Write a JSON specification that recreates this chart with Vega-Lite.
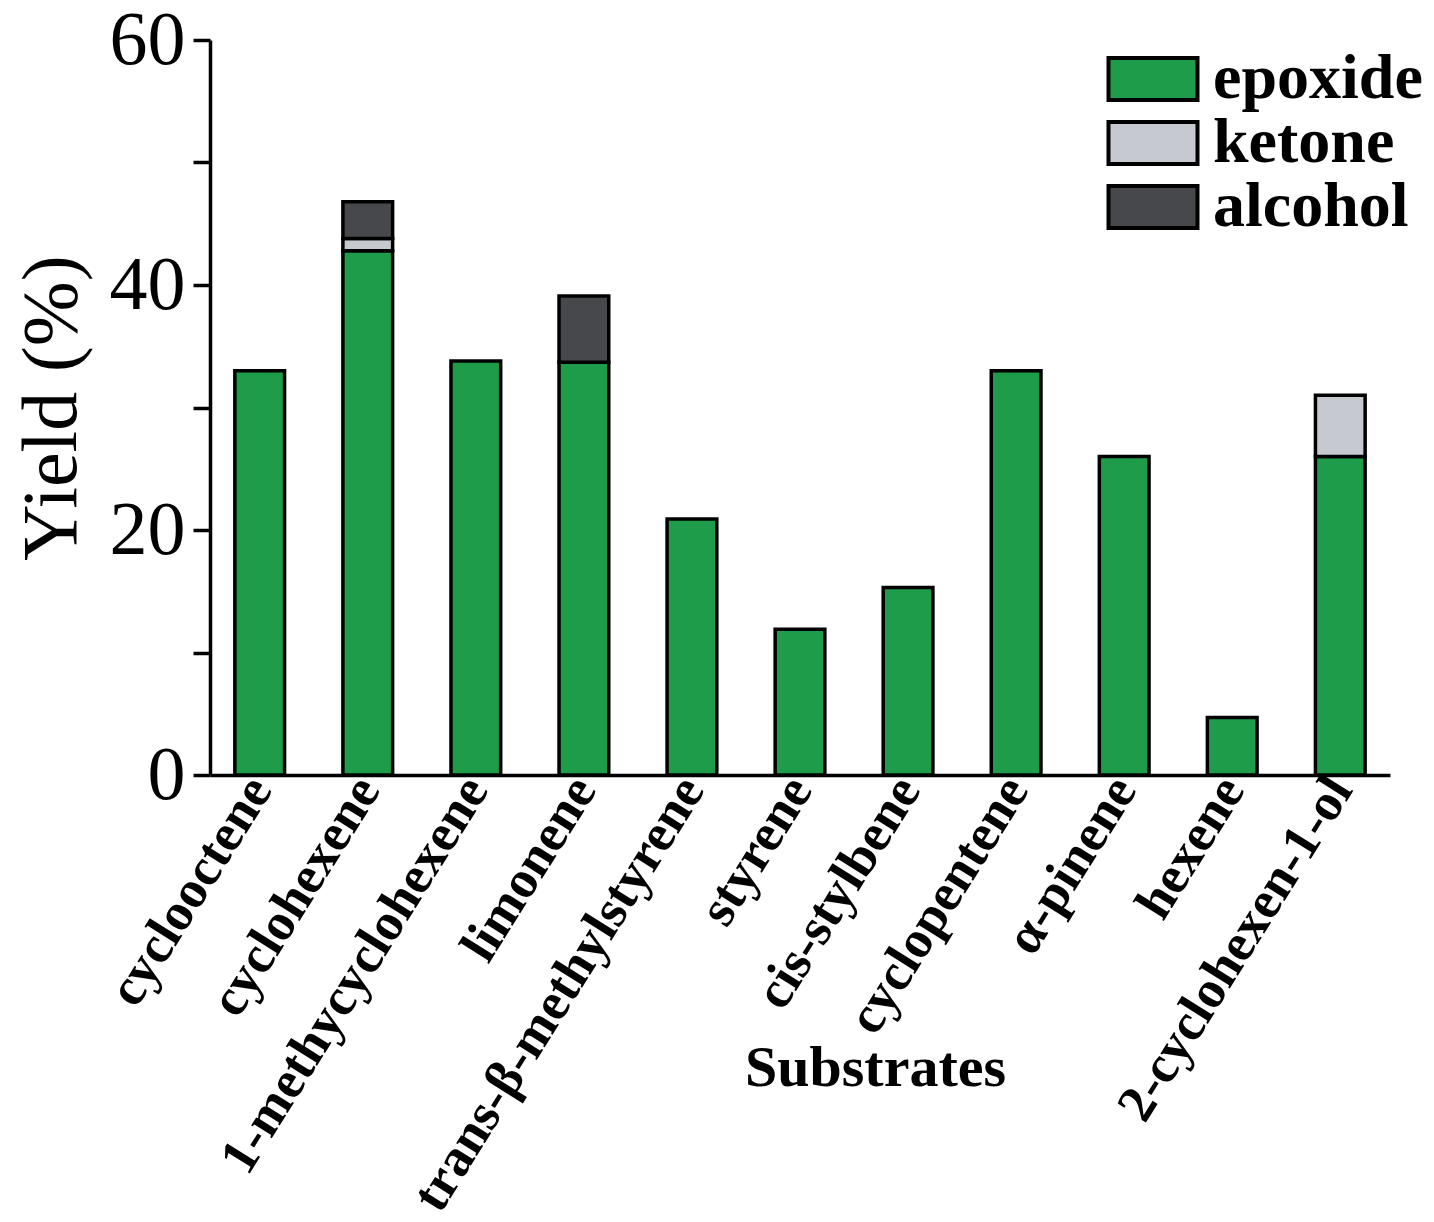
{
  "$schema": "https://vega.github.io/schema/vega-lite/v6.json",
  "autosize": "none",
  "padding": {"left": 210, "top": 40, "right": 44, "bottom": 447},
  "width": 1180,
  "height": 735,
  "background": "white",
  "config": {"view": {"stroke": null}},
  "data": {
    "values": [
      {"substrate": "cyclooctene", "product": "epoxide", "rank": 1, "yield": 33.0},
      {"substrate": "cyclohexene", "product": "epoxide", "rank": 1, "yield": 42.8},
      {"substrate": "cyclohexene", "product": "ketone", "rank": 2, "yield": 1.0},
      {"substrate": "cyclohexene", "product": "alcohol", "rank": 3, "yield": 3.0},
      {"substrate": "1-methycyclohexene", "product": "epoxide", "rank": 1, "yield": 33.8},
      {"substrate": "limonene", "product": "epoxide", "rank": 1, "yield": 33.7},
      {"substrate": "limonene", "product": "alcohol", "rank": 3, "yield": 5.4},
      {"substrate": "trans-β-methylstyrene", "product": "epoxide", "rank": 1, "yield": 20.9},
      {"substrate": "styrene", "product": "epoxide", "rank": 1, "yield": 11.9},
      {"substrate": "cis-stylbene", "product": "epoxide", "rank": 1, "yield": 15.3},
      {"substrate": "cyclopentene", "product": "epoxide", "rank": 1, "yield": 33.0},
      {"substrate": "α-pinene", "product": "epoxide", "rank": 1, "yield": 26.0},
      {"substrate": "hexene", "product": "epoxide", "rank": 1, "yield": 4.7},
      {"substrate": "2-cyclohexen-1-ol", "product": "epoxide", "rank": 1, "yield": 26.0},
      {"substrate": "2-cyclohexen-1-ol", "product": "ketone", "rank": 2, "yield": 5.0}
    ]
  },
  "mark": {"type": "bar", "stroke": "black", "strokeWidth": 3.5, "opacity": 1},
  "encoding": {
    "x": {
      "field": "substrate",
      "type": "nominal",
      "sort": null,
      "scale": {"paddingInner": 0.54, "paddingOuter": 0.23},
      "axis": {
        "title": "Substrates",
        "titleFont": "Liberation Serif",
        "titleFontSize": 58,
        "titleFontWeight": "bold",
        "titleColor": "black",
        "titleX": 665,
        "titleY": 293,
        "titleAlign": "center",
        "titleBaseline": "middle",
        "labelFont": "Liberation Serif",
        "labelFontSize": 53,
        "labelFontWeight": "bold",
        "labelColor": "black",
        "labelAngle": -58,
        "labelAlign": "right",
        "labelBaseline": "middle",
        "labelPadding": 6,
        "labelLimit": 1000,
        "labelOverlap": false,
        "ticks": false,
        "domainColor": "black",
        "domainWidth": 3.5
      }
    },
    "y": {
      "field": "yield",
      "type": "quantitative",
      "stack": "zero",
      "scale": {"domain": [0, 60], "nice": false},
      "axis": {
        "title": "Yield (%)",
        "titleFont": "Liberation Serif",
        "titleFontSize": 78,
        "titleFontWeight": "normal",
        "titleColor": "black",
        "titlePadding": 18,
        "values": [0, 10, 20, 30, 40, 50, 60],
        "labelExpr": "datum.value % 20 == 0 ? datum.label : ''",
        "labelFont": "Liberation Serif",
        "labelFontSize": 76,
        "labelColor": "black",
        "labelPadding": 8,
        "tickSize": 17,
        "tickWidth": 3.5,
        "tickColor": "black",
        "domainColor": "black",
        "domainWidth": 3.5,
        "grid": false
      }
    },
    "color": {
      "field": "product",
      "type": "nominal",
      "scale": {
        "domain": ["epoxide", "ketone", "alcohol"],
        "range": ["#1f9c4a", "#c6cad0", "#47484c"]
      },
      "legend": {
        "title": null,
        "orient": "none",
        "legendX": 911,
        "legendY": 7,
        "padding": 0,
        "symbolType": "M-2,-0.94H2V0.94H-2Z",
        "symbolSize": 1980,
        "symbolStrokeColor": "black",
        "symbolStrokeWidth": 4,
        "symbolOpacity": 1,
        "labelFont": "Liberation Serif",
        "labelFontSize": 64,
        "labelFontWeight": "bold",
        "labelColor": "black",
        "labelOffset": 28,
        "rowPadding": -10,
        "labelLimit": 400
      }
    },
    "order": {"field": "rank", "type": "quantitative"}
  }
}
